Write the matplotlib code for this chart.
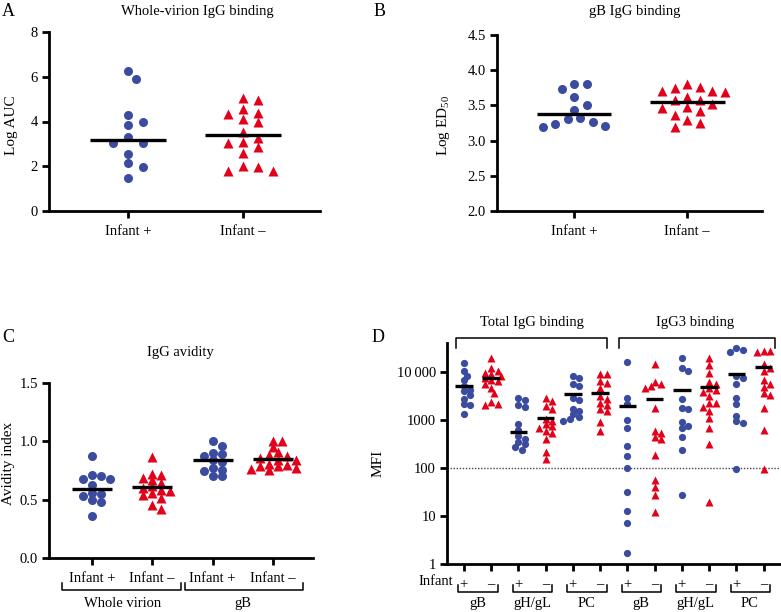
import numpy as np
import matplotlib
matplotlib.use('Agg')
import matplotlib.pyplot as plt
from matplotlib.ticker import NullLocator, FixedLocator
from matplotlib.transforms import blended_transform_factory

plt.rcParams['font.family'] = ['Liberation Serif', 'DejaVu Serif']
plt.rcParams['mathtext.fontset'] = 'custom'
plt.rcParams['mathtext.rm'] = 'Liberation Serif'
plt.rcParams['font.size'] = 10

BLUE = '#3b4ba0'
RED = '#e3001b'
W, H = 781, 612

# --- A: whole-virion IgG binding (log AUC)
auc_pos = [6.26, 5.90, 4.31, 3.99, 3.85, 3.29, 3.02, 3.06, 2.54, 2.13, 1.98, 1.46]
auc_neg = [5.07, 4.98, 4.58, 4.39, 4.33, 4.09, 3.96, 3.51, 3.27, 3.09, 3.05,
           2.84, 2.57, 1.98, 2.02, 1.80, 1.80]
auc_mid = [3.17, 3.39]

# --- B: gB IgG binding (log ED50)
ed50_pos = [3.80, 3.80, 3.74, 3.62, 3.51, 3.44, 3.30, 3.32, 3.23, 3.26, 3.20, 3.21]
ed50_neg = [3.80, 3.76, 3.71, 3.69, 3.70, 3.75, 3.58, 3.62, 3.52, 3.57, 3.46,
            3.42, 3.48, 3.29, 3.37, 3.25, 3.20]
ed50_mid = [3.38, 3.55]

# --- C: IgG avidity
avid_wv_pos = [0.877, 0.706, 0.68, 0.68, 0.709, 0.623, 0.557, 0.53, 0.55, 0.494, 0.477, 0.357]
avid_wv_neg = [0.866, 0.723, 0.714, 0.686, 0.643, 0.666, 0.614, 0.60, 0.571, 0.557,
               0.586, 0.514, 0.543, 0.457, 0.423]
avid_gb_pos = [1.0, 0.963, 0.90, 0.877, 0.894, 0.843, 0.82, 0.757, 0.743, 0.771, 0.706, 0.70]
avid_gb_neg = [1.006, 1.0, 0.951, 0.906, 0.877, 0.886, 0.843, 0.857, 0.837, 0.809,
               0.786, 0.791, 0.763, 0.757, 0.77, 0.80]
avid_mid = [0.59, 0.609, 0.843, 0.851]
avid_ticklabels = ['Infant +', 'Infant \u2013', 'Infant +', 'Infant \u2013']
avid_groups = ['Whole virion', 'gB']

# --- D: MFI, total IgG and IgG3 binding
mfi_igg_gb_pos = [15600, 10500, 8300, 6700, 5100, 4200, 4000, 3300, 2700, 2100, 2000, 1300]
mfi_igg_gb_neg = [19200, 11900, 10500, 9700, 8900, 8300, 7400, 6700, 6500, 5500, 4700,
                  3700, 2400, 2100, 2000]
mfi_igg_gh_pos = [2900, 2600, 2000, 1900, 820, 620, 470, 400, 340, 310, 270, 240]
mfi_igg_gh_neg = [2850, 2430, 1970, 1680, 1050, 970, 820, 760, 680, 600, 530, 400, 220, 155]
mfi_igg_pc_pos = [8300, 7400, 5500, 5100, 2850, 2600, 1700, 1550, 1300, 1170, 1050, 970]
mfi_igg_pc_neg = [8950, 8950, 6500, 6000, 4700, 3200, 2700, 2300, 2000, 1700, 1550, 890, 600]
mfi_g3_gb_pos = [16400, 2900, 2100, 1000, 680, 290, 176, 99, 31, 13, 7.2, 1.7]
mfi_g3_gb_neg = [14400, 6300, 5550, 5100, 4600, 1770, 600, 530, 450, 400, 190, 55, 40, 28, 12]
mfi_g3_gh_pos = [19200, 11900, 10200, 2700, 1800, 1700, 890, 760, 680, 450, 240, 28]
mfi_g3_gh_neg = [19200, 14000, 9700, 6300, 5700, 4700, 4200, 3900, 3200, 2300, 2200,
                 1900, 1500, 1100, 670, 310, 20]
mfi_g3_pc_pos = [30900, 28100, 26400, 8300, 7400, 5500, 2850, 2100, 1200, 940, 850, 93]
mfi_g3_pc_neg = [27200, 27200, 26000, 14900, 12300, 10200, 6700, 5700, 4900, 3700, 3300,
                 1800, 620, 96]
mfi_mid = [5130, 7390, 553, 1080, 3440, 3560, 1975, 2715, 4170, 4890, 9240, 12700]
mfi_cutoff = 100
mfi_ticklabels = ['+', '\u2013'] * 6
mfi_groups = ['gB', 'gH/gL', 'PC', 'gB', 'gH/gL', 'PC']
mfi_sections = ['Total IgG binding', 'IgG3 binding']


def rect(l, t, r, b):
    return [l / W, 1 - b / H, (r - l) / W, (b - t) / H]


def swarm(ax, xc, vals, sx, sy):
    # spread points sideways (pixels) so markers don't stack; elliptical clearance sx by sy
    pts = ax.transData.transform(np.column_stack([np.full(len(vals), xc), vals]))
    xp, yp = pts[0, 0], pts[:, 1]
    placed = []
    off = np.zeros(len(vals))
    for i in np.argsort(-yp):
        k = 0
        while True:
            cands = [0.0] if k == 0 else [k * sx * 0.5, -k * sx * 0.5]
            ok = None
            for c in cands:
                if all(((c - px) / sx) ** 2 + ((yp[i] - py) / sy) ** 2 >= 1 for px, py in placed):
                    ok = c
                    break
            if ok is not None:
                off[i] = ok
                placed.append((ok, yp[i]))
                break
            k += 1
    inv = ax.transData.inverted()
    return inv.transform(np.column_stack([xp + off, yp]))[:, 0]


def column(ax, xc, vals, mid, pos, ms, sx, sy, half=0.33):
    xs = swarm(ax, xc, vals, sx, sy)
    if pos:
        ax.plot(xs, vals, ls='none', marker='o', ms=ms, color=BLUE, mec='none',
                clip_on=False, zorder=3)
    else:
        ax.plot(xs, vals, ls='none', marker='^', ms=ms * 1.15, color=RED, mec='none',
                clip_on=False, zorder=3)
    ax.plot([xc - half, xc + half], [mid, mid], color='black', lw=2.4,
            solid_capstyle='butt', zorder=4)


def style(ax):
    for s in ['top', 'right']:
        ax.spines[s].set_visible(False)
    for s in ['left', 'bottom']:
        ax.spines[s].set_linewidth(2)
    ax.tick_params(width=2, length=5, labelsize=10.5, color='black')
    ax.tick_params(axis='x', pad=5)
    ax.tick_params(axis='y', pad=3)


def bracket(ax, x0, x1, ytop, ybot, up=True):
    tr = blended_transform_factory(ax.transData, ax.transAxes)
    if up:   # horizontal bar at bottom, ends pointing up
        xs, ys = [x0, x0, x1, x1], [ytop, ybot, ybot, ytop]
    else:    # horizontal bar at top, ends pointing down
        xs, ys = [x0, x0, x1, x1], [ybot, ytop, ytop, ybot]
    ax.plot(xs, ys, color='black', lw=1.1, transform=tr, clip_on=False)


fig = plt.figure(figsize=(W / 100, H / 100), dpi=100)


def ftext(x, y, s, **kw):
    fig.text(x / W, 1 - y / H, s, va='center', **kw)


# ---------------- A
axA = fig.add_axes(rect(49, 32, 320, 211))
style(axA)
axA.set_xlim(-0.69, 1.67)
axA.set_ylim(0, 8)
axA.set_yticks([0, 2, 4, 6, 8])
axA.set_xticks([0, 1])
axA.set_xticklabels(['Infant +', 'Infant \u2013'])
column(axA, 0, auc_pos, auc_mid[0], True, 6.5, 15, 9)
column(axA, 1, auc_neg, auc_mid[1], False, 6.5, 15, 9)
ftext(11, 125, 'Log AUC', ha='center', rotation=90, fontsize=11)

# ---------------- B
axB = fig.add_axes(rect(497, 35, 762, 211))
style(axB)
axB.set_xlim(-0.68, 1.66)
axB.set_ylim(2.0, 4.5)
axB.set_yticks([2.0, 2.5, 3.0, 3.5, 4.0, 4.5])
axB.set_yticklabels(['2.0', '2.5', '3.0', '3.5', '4.0', '4.5'])
axB.set_xticks([0, 1])
axB.set_xticklabels(['Infant +', 'Infant \u2013'])
column(axB, 0, ed50_pos, ed50_mid[0], True, 6.5, 12.5, 9)
column(axB, 1, ed50_neg, ed50_mid[1], False, 6.5, 12.5, 9)
ftext(443, 125, 'Log ED$_{50}$', ha='center', rotation=90, fontsize=11)

# ---------------- C
axC = fig.add_axes(rect(49, 383, 313, 558))
style(axC)
axC.set_xlim(-0.71, 3.66)
axC.set_ylim(0, 1.5)
axC.set_yticks([0.0, 0.5, 1.0, 1.5])
axC.set_yticklabels(['0.0', '0.5', '1.0', '1.5'])
axC.set_xticks(range(4))
axC.set_xticklabels(avid_ticklabels)
for i, vals in enumerate([avid_wv_pos, avid_wv_neg, avid_gb_pos, avid_gb_neg]):
    column(axC, i, vals, avid_mid[i], i % 2 == 0, 6.5, 9, 6)
ftext(9, 463, 'Avidity index', ha='center', rotation=90, fontsize=11)
trC = blended_transform_factory(axC.transData, axC.transAxes)
for g, name in enumerate(avid_groups):
    x0 = 2 * g - 0.5 + (0.04 if g else 0)
    x1 = 2 * g + 1.48 if g == 0 else 2 * g + 1.5
    bracket(axC, x0, x1, -0.143, -0.183)
    axC.text(2 * g + 0.5, -0.26, name, transform=trC, ha='center', va='center', fontsize=10.5)

# ---------------- D
axD = fig.add_axes(rect(447, 343, 780, 564))
style(axD)
axD.set_yscale('log')
axD.set_xlim(-0.62, 11.6)
axD.set_ylim(1, 40000)
axD.yaxis.set_major_locator(FixedLocator([1, 10, 100, 1000, 10000]))
axD.yaxis.set_minor_locator(NullLocator())
axD.set_yticklabels(['1', '10', '100', '1000', '10\u2009000'])
axD.set_xticks(range(12))
axD.set_xticklabels(mfi_ticklabels)
axD.axhline(mfi_cutoff, color='#444444', lw=1, ls=(0, (1, 1.2)), zorder=1)
mfi_cols = [mfi_igg_gb_pos, mfi_igg_gb_neg, mfi_igg_gh_pos, mfi_igg_gh_neg,
            mfi_igg_pc_pos, mfi_igg_pc_neg, mfi_g3_gb_pos, mfi_g3_gb_neg,
            mfi_g3_gh_pos, mfi_g3_gh_neg, mfi_g3_pc_pos, mfi_g3_pc_neg]
for i, vals in enumerate(mfi_cols):
    column(axD, i, vals, mfi_mid[i], i % 2 == 0, 5.2, 6.5, 5, half=0.32)
ftext(378, 463, 'MFI', ha='center', rotation=90, fontsize=11)
trD = blended_transform_factory(axD.transData, axD.transAxes)
axD.text(-0.38, -0.081, 'Infant', transform=trD, ha='right', va='center', fontsize=10.5)
for g, name in enumerate(mfi_groups):
    bracket(axD, 2 * g - 0.2, 2 * g + 1.25, -0.095, -0.127)
    axD.text(2 * g + 0.5, -0.178, name, transform=trD, ha='center', va='center', fontsize=10.5)
bracket(axD, -0.29, 5.24, 1.023, 0.977, up=False)
bracket(axD, 5.68, 11.43, 1.023, 0.977, up=False)
axD.text(2.5, 1.095, mfi_sections[0], transform=trD, ha='center', va='center', fontsize=10.5)
axD.text(8.5, 1.095, mfi_sections[1], transform=trD, ha='center', va='center', fontsize=10.5)

# ---------------- titles and panel letters
ftext(197, 11, 'Whole-virion IgG binding', ha='center', fontsize=10.5)
ftext(635, 11, 'gB IgG binding', ha='center', fontsize=10.5)
ftext(180, 353, 'IgG avidity', ha='center', fontsize=10.5)
ftext(2, 11, 'A', ha='left', fontsize=13)
ftext(374, 11, 'B', ha='left', fontsize=13)
ftext(2, 337, 'C', ha='left', fontsize=13)
ftext(372, 337, 'D', ha='left', fontsize=13)

fig.savefig('out.png', dpi=100)
